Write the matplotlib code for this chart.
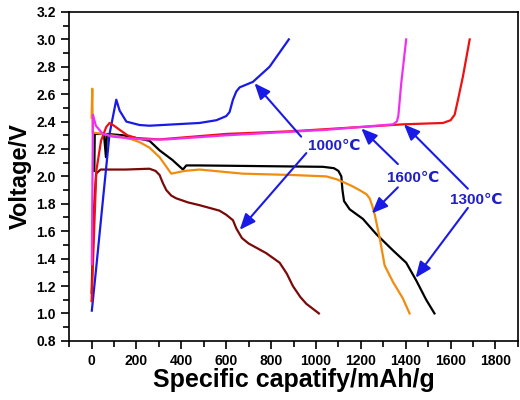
import matplotlib
matplotlib.use("Agg")
import matplotlib.pyplot as plt
from matplotlib.ticker import MultipleLocator

plt.rcParams['font.family'] = ['Liberation Sans', 'DejaVu Sans']
plt.rcParams['font.weight'] = 'bold'

# 1000 C
c1000_x = [1, 21, 50, 80, 110, 125, 155, 214, 258, 481, 556, 600, 615, 630, 645, 660, 719, 793, 879]
c1000_y = [1.02, 1.34, 1.82, 2.31, 2.56, 2.48, 2.40, 2.375, 2.37, 2.39, 2.41, 2.44, 2.47, 2.56, 2.62, 2.65, 2.69, 2.80, 3.0]
d1000_x = [0, 10, 20, 40, 150, 258, 285, 303, 318, 333, 355, 377, 430, 481, 570, 600, 630, 645, 670, 700,
           778, 838, 870, 897, 930, 957, 1013]
d1000_y = [1.15, 1.75, 2.02, 2.05, 2.05, 2.056, 2.04, 2.01, 1.95, 1.90, 1.86, 1.84, 1.81, 1.79, 1.75, 1.72, 1.68, 1.62,
           1.55, 1.51, 1.44, 1.37, 1.29, 1.20, 1.12, 1.07, 1.00]

# 1300 C
c1300_x = [0, 21, 42, 65, 80, 100, 125, 160, 199, 303, 600, 897, 1194, 1387, 1566, 1600, 1618, 1633, 1655, 1685]
c1300_y = [1.09, 2.04, 2.26, 2.36, 2.39, 2.37, 2.34, 2.30, 2.28, 2.27, 2.31, 2.33, 2.36, 2.38, 2.39, 2.41, 2.45, 2.56, 2.73, 3.0]
d1300_x = [12, 14, 55, 64, 68, 140, 258, 303, 360, 407, 422, 481, 1031, 1080, 1100, 1113, 1118, 1125, 1150,
           1209, 1268, 1343, 1402, 1447, 1491, 1528]
d1300_y = [2.04, 2.31, 2.31, 2.14, 2.31, 2.30, 2.26, 2.19, 2.12, 2.05, 2.08, 2.08, 2.07, 2.06, 2.04, 2.00, 1.90, 1.82, 1.76,
           1.69, 1.58, 1.46, 1.37, 1.24, 1.10, 1.00]

# 1600 C
c1600_x = [1, 6, 19, 50, 95, 160, 229, 333, 600, 1046, 1343, 1360, 1367, 1380, 1402]
c1600_y = [1.36, 2.45, 2.37, 2.31, 2.29, 2.28, 2.27, 2.27, 2.30, 2.34, 2.38, 2.40, 2.44, 2.68, 3.0]
d1600_x = [0, 3, 5, 50, 125, 180, 214, 258, 303, 355, 385, 414, 481, 674, 897, 1046, 1090, 1120, 1160, 1194,
           1225, 1239, 1250, 1262, 1284, 1306, 1343, 1387, 1417]
d1600_y = [2.43, 2.64, 2.32, 2.31, 2.29, 2.27, 2.25, 2.21, 2.14, 2.02, 2.03, 2.04, 2.05, 2.02, 2.01, 2.00, 1.98, 1.96, 1.93, 1.90,
           1.87, 1.84, 1.79, 1.72, 1.55, 1.35, 1.23, 1.11, 1.00]

labels = ['1000\u2103', '1600\u2103', '1300\u2103']
label_xy = [(1083, 2.22), (1435, 1.99), (1716, 1.83)]
# arrows: (label index, tail, head)
arrows = [
    (0, (934, 2.29), (726, 2.68)),
    (0, (957, 2.17), (660, 1.61)),
    (1, (1365, 2.09), (1202, 2.35)),
    (1, (1365, 1.92), (1249, 1.73)),
    (2, (1677, 1.91), (1392, 2.38)),
    (2, (1677, 1.77), (1444, 1.26)),
]

fig = plt.figure(figsize=(5.2, 4), dpi=100)
ax = fig.add_axes([0.133, 0.148, 0.863, 0.822])

lw = 1.6
ax.plot(d1000_x, d1000_y, color='#7a0a0a', lw=lw)
ax.plot(d1300_x, d1300_y, color='black', lw=lw)
ax.plot(d1600_x, d1600_y, color='#f08c10', lw=lw)
ax.plot(c1000_x, c1000_y, color='#1a1ae6', lw=lw)
ax.plot(c1300_x, c1300_y, color='#ee1111', lw=lw)
ax.plot(c1600_x, c1600_y, color='#f030f0', lw=lw)

for i, tail, head in arrows:
    ax.annotate('', xy=head, xytext=tail,
                arrowprops=dict(arrowstyle='-|>,head_length=0.6,head_width=0.25', color='#1a1ae6', lw=1.5,
                                mutation_scale=16, shrinkA=0, shrinkB=0))
for t, (x, y) in zip(labels, label_xy):
    ax.text(x, y, t, color='#2020c8', fontsize=11, fontweight='bold',
            ha='center', va='center')

ax.set_xlim(-100, 1900)
ax.set_ylim(0.8, 3.2)
ax.xaxis.set_minor_locator(MultipleLocator(100))
ax.yaxis.set_minor_locator(MultipleLocator(0.1))
ax.set_xticks(range(0, 1801, 200))
ax.set_yticks([0.8 + 0.2 * k for k in range(13)])
ax.set_yticklabels(['%.1f' % (0.8 + 0.2 * k) for k in range(13)])
ax.tick_params(which='major', direction='out', length=6, width=1.2, labelsize=10)
ax.tick_params(which='minor', direction='out', length=4, width=1.2)
for lab in ax.get_xticklabels() + ax.get_yticklabels():
    lab.set_fontweight('bold')
for s in ax.spines.values():
    s.set_linewidth(1.2)

ax.set_xlabel('Specific capatify/mAh/g', fontsize=18, fontweight='bold', labelpad=0)
ax.set_ylabel('Voltage/V', fontsize=17, fontweight='bold', labelpad=3)

fig.savefig('out.png', dpi=100)
